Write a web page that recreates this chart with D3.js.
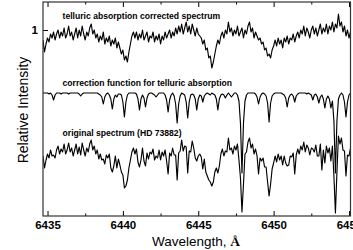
<!DOCTYPE html>
<html lang="en">
<head>
<meta charset="UTF-8">
<title>Telluric correction</title>
<script src="https://d3js.org/d3.v7.min.js"></script>
<style>
  body { margin: 0; background: #fff; }
  svg { display: block; font-family: "Liberation Sans", Arial, sans-serif; }
  .tick text { font-size: 11.5px; font-weight: bold; fill: #000; }
  .tick line { stroke: #000; }
  .spec { fill: none; stroke: #000; stroke-width: 1.15; stroke-linejoin: round; }
  .note { font-size: 8.6px; font-weight: bold; }
</style>
</head>
<body>
<svg id="chart" width="353" height="250"></svg>
<script>
const wlStart = 6434.7, wlStep = 0.1;

// telluric absorption corrected spectrum
const corrected = [
  0.95,0.89,0.93,0.96,0.94,0.98,0.96,0.99,0.95,0.98,
  1.00,0.96,0.99,0.97,1.01,0.96,0.98,1.02,0.97,0.99,
  0.95,0.98,1.01,0.96,1.00,0.97,1.02,0.98,0.95,0.99,
  0.97,1.01,1.03,0.98,1.00,0.96,0.98,0.94,0.97,0.95,
  0.99,0.93,0.96,0.94,0.97,0.92,0.95,0.93,0.96,0.91,
  0.94,0.91,0.88,0.90,0.85,0.87,0.84,0.89,0.93,0.97,
  0.99,0.96,0.99,0.95,0.98,0.96,1.00,0.95,0.97,0.99,
  0.94,0.97,0.96,0.99,0.94,0.97,0.95,0.98,0.93,0.97,
  0.95,0.99,0.96,0.98,1.00,0.96,0.99,0.97,1.01,0.98,
  1.02,0.99,1.03,0.98,1.01,1.04,0.99,1.02,0.98,1.03,
  1.00,0.97,1.01,0.98,0.97,0.96,0.93,0.95,0.90,0.91,
  0.86,0.87,0.81,0.84,0.88,0.92,0.95,0.93,0.97,0.99,
  0.96,1.00,0.98,1.04,0.99,1.01,0.97,1.00,0.98,1.02,
  0.97,0.99,1.01,0.96,1.00,0.98,1.02,1.04,0.99,1.01,
  0.96,0.99,0.97,0.95,0.96,0.93,0.94,0.90,0.91,0.87,
  0.88,0.86,0.90,0.92,0.95,0.92,0.96,0.93,0.95,0.91,
  0.96,0.94,0.97,0.93,0.96,0.95,0.98,0.94,0.97,0.99,
  0.96,1.00,0.98,1.02,0.97,1.01,0.99,0.96,1.00,1.02,
  0.98,1.01,0.97,1.00,1.03,0.98,1.01,0.99,1.03,0.98,
  1.02,1.00,1.04,0.99,1.03,1.01,1.08,1.02,1.04,0.99,
  1.02,0.97,1.00,0.96,0.99
];

// correction function for telluric absorption
const correction = [
  1,1,1,1,0.995,1,0.99,0.965,0.99,1,
  1,1,0.995,1,1,1,1,0.995,1,1,
  1,1,1,1,0.995,0.985,0.995,1,1,1,
  1,1,1,1,1,1,1,0.995,0.99,0.98,
  0.945,0.98,0.995,1,0.99,0.97,0.92,0.97,0.99,0.98,
  0.995,0.995,0.99,0.955,0.88,0.955,0.99,1,1,1,
  1,1,0.995,0.97,0.915,0.97,0.99,0.975,0.93,0.975,
  0.995,1,1,0.995,0.99,0.98,0.99,1,1,1,
  1,0.99,0.965,0.905,0.965,0.99,1,0.985,0.945,0.85,
  0.945,0.985,1,0.995,0.99,0.955,0.875,0.955,0.99,0.995,
  0.99,0.97,0.915,0.97,0.99,0.985,0.955,0.985,0.995,1,
  0.995,0.99,1,0.995,0.99,0.97,0.915,0.97,0.99,0.995,
  0.99,0.975,0.99,1,0.99,0.98,0.99,1,1,0.99,
  0.96,0.85,0.60,0.85,0.96,0.99,1,1,1,1,
  1,0.995,0.98,0.945,0.98,0.995,1,0.995,0.985,0.95,
  0.855,0.95,0.985,0.995,1,1,1,1,1,0.995,
  0.99,0.975,0.93,0.975,0.99,0.995,0.985,0.955,0.985,0.995,
  1,1,1,1,1,0.995,1,0.995,0.99,0.965,
  0.99,0.995,0.98,0.95,0.98,0.99,0.97,0.925,0.97,0.985,
  0.97,0.925,0.96,0.86,0.60,0.86,0.97,0.99,1,0.99,
  0.955,0.88,0.955,0.99,1
];

// original spectrum (HD 73882)
const original = [
  0.95,0.89,0.93,0.96,0.94,0.98,0.95,0.955,0.94,0.98,
  1.00,0.96,0.985,0.97,1.01,0.96,0.98,1.015,0.97,0.99,
  0.95,0.98,1.01,0.96,0.995,0.955,1.015,0.98,0.95,0.99,
  0.97,1.01,1.03,0.98,1.00,0.96,0.98,0.935,0.96,0.93,
  0.935,0.91,0.955,0.94,0.96,0.89,0.87,0.90,0.95,0.89,
  0.935,0.905,0.87,0.855,0.79,0.80,0.83,0.89,0.93,0.97,
  0.99,0.96,0.985,0.92,0.895,0.93,0.99,0.925,0.90,0.965,
  0.935,0.97,0.96,0.985,0.93,0.95,0.94,0.98,0.93,0.97,
  0.95,0.98,0.925,0.86,0.965,0.95,0.99,0.955,0.955,0.83,
  0.965,0.975,1.03,0.975,1.00,0.995,0.865,0.975,0.97,1.025,
  0.99,0.94,0.925,0.95,0.96,0.945,0.885,0.935,0.87,0.85,
  0.83,0.82,0.80,0.82,0.87,0.89,0.865,0.90,0.96,0.985,
  0.95,0.975,0.97,1.04,0.98,0.99,0.96,1.00,0.98,1.01,
  0.93,0.84,0.67,0.81,0.96,0.97,1.02,1.04,0.99,1.01,
  0.96,0.985,0.95,0.86,0.94,0.925,0.94,0.895,0.895,0.82,
  0.75,0.81,0.885,0.915,0.95,0.92,0.96,0.93,0.95,0.905,
  0.95,0.915,0.90,0.905,0.95,0.945,0.965,0.86,0.955,0.985,
  0.96,1.00,0.98,1.02,0.97,1.005,0.99,0.955,0.99,0.985,
  0.97,1.005,0.95,0.95,1.01,0.88,0.98,0.915,1.00,0.965,
  0.99,0.925,1.00,0.85,0.665,0.87,1.05,1.01,1.04,0.98,
  0.975,0.85,0.955,0.95,0.99
];

const xTicks = [6435, 6440, 6445, 6450, 6455];
const xMinorTicks = [6437.5, 6442.5, 6447.5, 6452.5];
const yTicks = [1];
const seriesNames = ["telluric absorption corrected spectrum",
                     "correction function for telluric absorption",
                     "original spectrum (HD 73882)"];
const seriesOffsets = [0, -0.315, -0.58];

const plotLeft = 43, plotRight = 350.5, plotTop = 2, plotBottom = 216;
const svg = d3.select("#chart");

const x = d3.scaleLinear().domain([6434.7, 6455.1]).range([plotLeft, plotRight]);
const y = d3.scaleLinear().domain([0.07, 1.14]).range([plotBottom, plotTop]);
const wl = d3.range(corrected.length).map(i => wlStart + i * wlStep);

svg.append("clipPath").attr("id", "clip")
  .append("rect").attr("x", plotLeft).attr("y", plotTop)
  .attr("width", plotRight - plotLeft).attr("height", plotBottom - plotTop);

const plot = svg.append("g").attr("clip-path", "url(#clip)");
[corrected, correction, original].forEach((vals, s) => {
  const line = d3.line()
    .x((d, i) => x(wl[i]))
    .y(d => y(d + seriesOffsets[s]));
  plot.append("path").attr("class", "spec").attr("d", line(vals));
});

// axes, ticks pointing inwards
svg.append("g").attr("transform", `translate(0,${plotBottom})`)
  .call(d3.axisBottom(x).tickValues(xTicks).tickSize(-5).tickPadding(4.5).tickFormat(d3.format("d")));
svg.append("g").attr("transform", `translate(0,${plotBottom})`)
  .call(d3.axisBottom(x).tickValues(xMinorTicks).tickSize(-2.5).tickFormat(""));
svg.append("g").attr("transform", `translate(0,${plotTop})`)
  .call(d3.axisTop(x).tickValues(xTicks).tickSize(-5).tickFormat(""));
svg.append("g").attr("transform", `translate(0,${plotTop})`)
  .call(d3.axisTop(x).tickValues(xMinorTicks).tickSize(-2.5).tickFormat(""));
svg.append("g").attr("transform", `translate(${plotLeft},0)`)
  .call(d3.axisLeft(y).tickValues(yTicks).tickSize(-5).tickPadding(5).tickFormat(d3.format("d")));
svg.selectAll(".domain").remove();
svg.selectAll("g").attr("font-family", null).attr("font-size", null);

svg.append("rect")
  .attr("x", plotLeft).attr("y", plotTop)
  .attr("width", plotRight - plotLeft).attr("height", plotBottom - plotTop)
  .attr("fill", "none").attr("stroke", "#333").attr("stroke-width", 1.2);

// series labels
const noteY = [19, 86, 136];
seriesNames.forEach((t, i) => {
  svg.append("text").attr("class", "note")
    .attr("x", x(6436.0)).attr("y", noteY[i]).text(t);
});

// axis titles
const xt = svg.append("text")
  .attr("x", 196).attr("y", 246)
  .attr("text-anchor", "middle")
  .style("font-size", "13.5px");
xt.append("tspan").text("Wavelength, ");
xt.append("tspan").style("font-family", "'Liberation Serif', serif").style("font-weight", "bold").text("Å");

svg.append("text")
  .attr("transform", "translate(28,110) rotate(-90)")
  .attr("text-anchor", "middle")
  .style("font-size", "14px")
  .text("Relative Intensity");
</script>
</body>
</html>
